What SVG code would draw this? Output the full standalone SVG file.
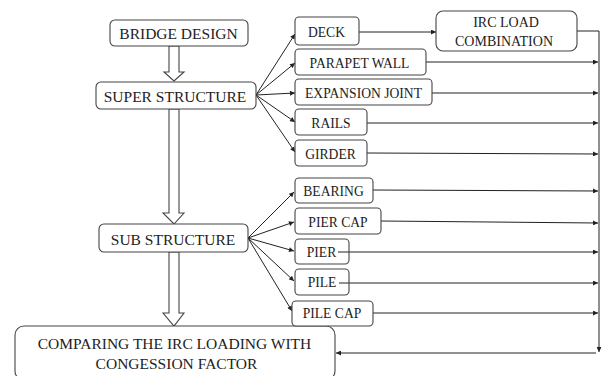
<svg xmlns="http://www.w3.org/2000/svg" width="601" height="376" viewBox="0 0 601 376">
<defs>
<marker id="ah" viewBox="0 0 10 10" refX="10" refY="5" markerWidth="6" markerHeight="5" markerUnits="userSpaceOnUse" orient="auto">
<path d="M0,0 L10,5 L0,10 z" fill="#222"/>
</marker>
<style>
.box{fill:#fff;stroke:#444;stroke-width:1.1}
.open{fill:none}
.t{font-family:"Liberation Serif","Times New Roman",serif;fill:#222;text-anchor:middle}
.big{font-size:15.5px}
.sm{font-size:13.6px}
.irc{font-size:14px}
.ln{fill:none;stroke:#222;stroke-width:1}
.ha{fill:#fff;stroke:#444;stroke-width:1.1}
</style>
</defs>
<rect width="601" height="376" fill="#fff"/>

<g id="connectors">
<polygon class="ha" points="169,46 179,46 179,72 184,72 174,81 164,72 169,72"/>
<polygon class="ha" points="169,109 179,109 179,213 184,213 174,224 163,213 169,213"/>
<polygon class="ha" points="169,252 179,252 179,313 184,313 174,326 163,313 169,313"/>
<line class="ln" x1="256" y1="95" x2="295" y2="34" marker-end="url(#ah)"/>
<line class="ln" x1="256" y1="95" x2="295" y2="63" marker-end="url(#ah)"/>
<line class="ln" x1="256" y1="95" x2="295" y2="93" marker-end="url(#ah)"/>
<line class="ln" x1="256" y1="95" x2="295" y2="122" marker-end="url(#ah)"/>
<line class="ln" x1="256" y1="95" x2="295" y2="152" marker-end="url(#ah)"/>
<line class="ln" x1="248" y1="238" x2="294" y2="192" marker-end="url(#ah)"/>
<line class="ln" x1="248" y1="238" x2="294" y2="222" marker-end="url(#ah)"/>
<line class="ln" x1="248" y1="238" x2="294" y2="251" marker-end="url(#ah)"/>
<line class="ln" x1="248" y1="238" x2="294" y2="281" marker-end="url(#ah)"/>
<line class="ln" x1="248" y1="238" x2="292" y2="311" marker-end="url(#ah)"/>
<line class="ln" x1="359" y1="32" x2="436" y2="32" marker-end="url(#ah)"/>
<line class="ln" x1="426" y1="62" x2="598" y2="62" marker-end="url(#ah)"/>
<line class="ln" x1="432" y1="93" x2="598" y2="93" marker-end="url(#ah)"/>
<line class="ln" x1="367" y1="123" x2="598" y2="123" marker-end="url(#ah)"/>
<line class="ln" x1="367" y1="153" x2="598" y2="154" marker-end="url(#ah)"/>
<line class="ln" x1="373" y1="190" x2="598" y2="191" marker-end="url(#ah)"/>
<line class="ln" x1="381" y1="221" x2="598" y2="223" marker-end="url(#ah)"/>
<line class="ln" x1="338" y1="252" x2="598" y2="252" marker-end="url(#ah)"/>
<line class="ln" x1="339" y1="283" x2="598" y2="283" marker-end="url(#ah)"/>
<line class="ln" x1="373" y1="313" x2="598" y2="313" marker-end="url(#ah)"/>
<polyline class="ln" points="576,31 599,31 599,352" marker-end="url(#ah)"/>
<line class="ln" x1="596" y1="353" x2="336" y2="353" marker-end="url(#ah)"/>
</g>

<g id="bridge-design">
<rect class="box" x="110" y="20" width="138" height="26" rx="5"/>
<text class="t big" x="178.5" y="39">BRIDGE DESIGN</text>
</g>
<g id="super-structure">
<rect class="box" x="96" y="82" width="160" height="27" rx="5"/>
<text class="t big" x="175" y="102">SUPER STRUCTURE</text>
</g>
<g id="sub-structure">
<rect class="box" x="99" y="224" width="149" height="28" rx="5"/>
<text class="t big" x="173" y="245">SUB STRUCTURE</text>
</g>
<g id="comparing">
<rect class="box" x="15" y="326" width="320" height="54" rx="9"/>
<text class="t big" x="174.5" y="349">COMPARING THE IRC LOADING WITH</text>
<text class="t big" x="176.5" y="369">CONGESSION FACTOR</text>
</g>
<g id="deck">
<rect class="box" x="295" y="17" width="64" height="28" rx="4"/>
<text class="t sm" x="326.5" y="37">DECK</text>
</g>
<g id="irc-load">
<rect class="box" x="436" y="11" width="141" height="40" rx="7"/>
<text class="t irc" x="506" y="27">IRC LOAD</text>
<text class="t irc" x="504" y="46">COMBINATION</text>
</g>
<g id="parapet-wall">
<rect class="box" x="295" y="49" width="131" height="26" rx="4"/>
<text class="t sm" x="359.5" y="68">PARAPET WALL</text>
</g>
<g id="expansion-joint">
<rect class="box" x="295" y="79" width="137" height="26" rx="4"/>
<text class="t sm" x="363.5" y="98">EXPANSION JOINT</text>
</g>
<g id="rails">
<rect class="box" x="295" y="109" width="72" height="26" rx="4"/>
<text class="t sm" x="331" y="128">RAILS</text>
</g>
<g id="girder">
<rect class="box" x="295" y="140" width="72" height="26" rx="4"/>
<text class="t sm" x="330.5" y="159">GIRDER</text>
</g>
<g id="bearing">
<rect class="box" x="295" y="178" width="78" height="25" rx="4"/>
<text class="t sm" x="333.5" y="196">BEARING</text>
</g>
<g id="pier-cap">
<rect class="box" x="295" y="208" width="86" height="26" rx="4"/>
<text class="t sm" x="338" y="227">PIER CAP</text>
</g>
<g id="pier">
<rect class="box open" x="295" y="239" width="54" height="25" rx="4"/>
<text class="t sm" x="321.5" y="257">PIER</text>
</g>
<g id="pile">
<rect class="box open" x="295" y="269" width="54" height="26" rx="4"/>
<text class="t sm" x="322" y="287">PILE</text>
</g>
<g id="pile-cap">
<rect class="box" x="292" y="301" width="81" height="25" rx="4"/>
<text class="t sm" x="332" y="318">PILE CAP</text>
</g>
</svg>
